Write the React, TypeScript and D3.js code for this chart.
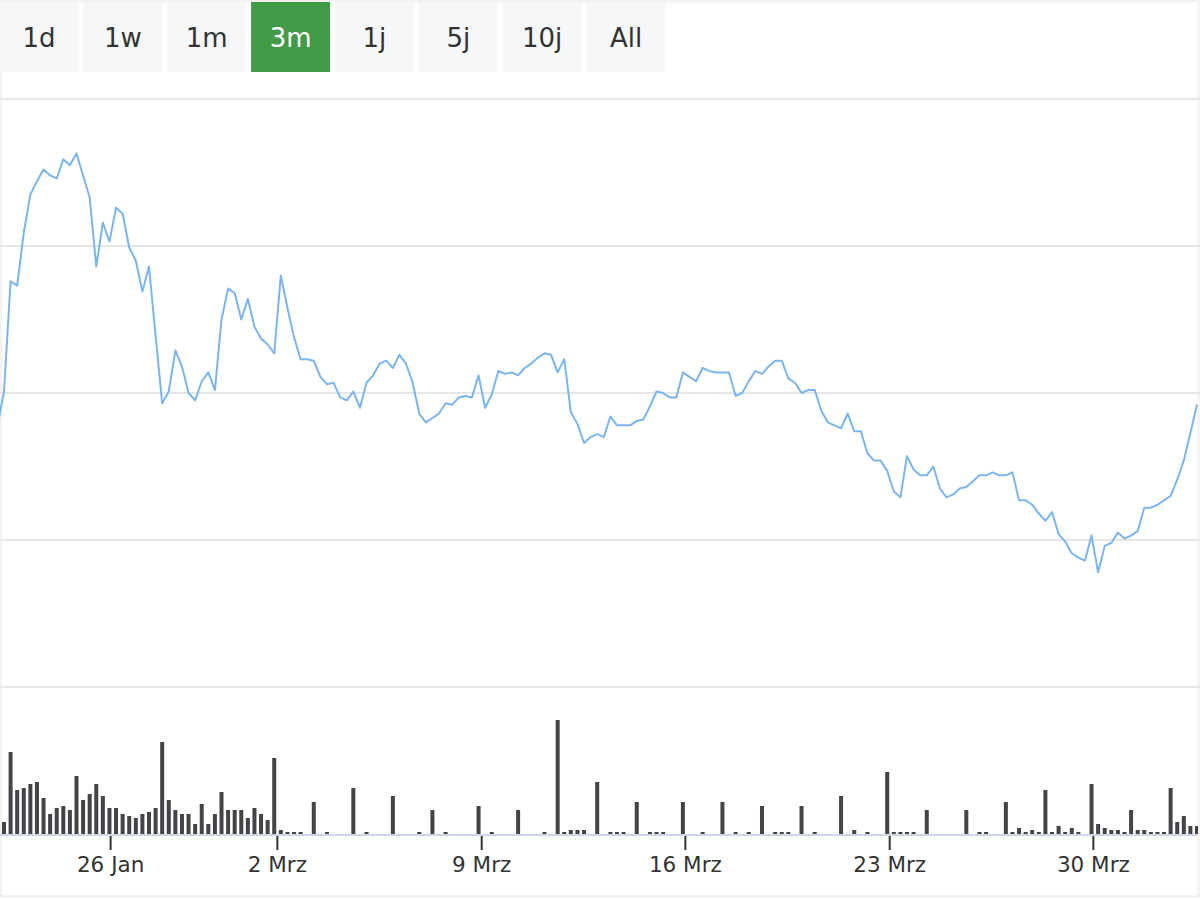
import { useEffect, useRef } from "react";
import * as d3 from "d3";

// range selector buttons
const ranges = ["1d", "1w", "1m", "3m", "1j", "5j", "10j", "All"];
const activeRange = "3m";

// closing prices, one per ordinal point (first point sits just left of the plot)
const prices = [
  11.77, 12.01, 12.76, 12.73, 13.09, 13.35, 13.44, 13.52, 13.48, 13.46,
  13.59, 13.55, 13.63, 13.48, 13.33, 12.86, 13.16, 13.03, 13.26, 13.22,
  12.99, 12.90, 12.69, 12.86, 12.39, 11.93, 12.01, 12.29, 12.18, 12.00,
  11.95, 12.08, 12.14, 12.02, 12.50, 12.71, 12.68, 12.50, 12.64, 12.45,
  12.37, 12.33, 12.27, 12.80, 12.58, 12.38, 12.23, 12.23, 12.22, 12.11,
  12.06, 12.07, 11.97, 11.95, 12.01, 11.90, 12.07, 12.12, 12.20, 12.22,
  12.17, 12.26, 12.20, 12.07, 11.86, 11.80, 11.83, 11.86, 11.93, 11.92,
  11.97, 11.98, 11.97, 12.12, 11.90, 11.99, 12.15, 12.13, 12.14, 12.12,
  12.17, 12.20, 12.24, 12.27, 12.26, 12.14, 12.23, 11.87, 11.79, 11.66,
  11.70, 11.72, 11.70, 11.84, 11.78, 11.78, 11.78, 11.81, 11.82, 11.91,
  12.01, 12.00, 11.97, 11.97, 12.14, 12.11, 12.08, 12.17, 12.15, 12.14,
  12.14, 12.14, 11.98, 12.00, 12.08, 12.15, 12.13, 12.18, 12.22, 12.22,
  12.10, 12.07, 12.00, 12.02, 12.02, 11.88, 11.80, 11.78, 11.76, 11.86,
  11.74, 11.74, 11.59, 11.54, 11.54, 11.47, 11.33, 11.29, 11.57, 11.48,
  11.44, 11.44, 11.50, 11.35, 11.29, 11.31, 11.35, 11.36, 11.40, 11.44,
  11.44, 11.46, 11.44, 11.44, 11.46, 11.27, 11.27, 11.24, 11.18, 11.13,
  11.19, 11.04, 10.99, 10.91, 10.88, 10.86, 11.03, 10.78, 10.96, 10.98,
  11.05, 11.01, 11.03, 11.06, 11.22, 11.22, 11.24, 11.27, 11.30, 11.41,
  11.54, 11.73, 11.92,
];

// traded volume per point
const volumes = [
  0, 12, 82, 44, 46, 50, 52, 36, 20, 26,
  28, 24, 58, 34, 40, 50, 38, 26, 26, 20,
  18, 16, 20, 22, 26, 92, 34, 24, 20, 20,
  10, 30, 10, 20, 42, 24, 24, 24, 16, 26,
  20, 14, 76, 4, 2, 2, 2, 0, 32, 0,
  2, 0, 0, 0, 46, 0, 2, 0, 0, 0,
  38, 0, 0, 0, 2, 0, 24, 0, 2, 0,
  0, 0, 0, 28, 0, 2, 0, 0, 0, 24,
  0, 0, 0, 2, 0, 114, 2, 4, 4, 4,
  0, 52, 0, 2, 2, 2, 0, 32, 0, 2,
  2, 2, 0, 0, 32, 0, 0, 2, 0, 0,
  32, 0, 2, 0, 2, 0, 28, 0, 2, 2,
  2, 0, 28, 0, 2, 0, 0, 0, 38, 0,
  4, 0, 2, 0, 0, 62, 2, 2, 2, 2,
  0, 24, 0, 0, 0, 0, 0, 24, 0, 2,
  2, 0, 0, 32, 2, 6, 2, 4, 2, 44,
  2, 8, 2, 6, 2, 0, 50, 10, 6, 4,
  4, 2, 24, 4, 4, 2, 2, 2, 46, 12,
  18, 8, 8,
];

// date ticks on the ordinal axis (fractional point index)
const tickIndex = [17.1, 42.4, 73.4, 104.3, 135.3, 166.2];
const tickLabels = ["26 Jan", "2 Mrz", "9 Mrz", "16 Mrz", "23 Mrz", "30 Mrz"];
const priceTicks = [10, 11, 12, 13, 14];

export default function App() {
  const svgRef = useRef<SVGSVGElement>(null);

  useEffect(() => {
    if (!svgRef.current) return;
    const svg = d3.select(svgRef.current);
    svg.selectAll("*").remove();

    const W = 1200;
    const font = "'DejaVu Sans', sans-serif";

    // Outer frame
    svg.append("rect")
      .attr("x", 1).attr("y", 1).attr("width", 1197.5).attr("height", 895.5)
      .attr("fill", "#ffffff").attr("stroke", "#f2f2f2").attr("stroke-width", 2.5);

    // Buttons
    const btnPitch = 83.86, btnW = 79;
    const btn = svg.append("g").selectAll("g").data(ranges).enter().append("g")
      .attr("transform", (_, i) => `translate(${i * btnPitch - 0.5},2)`);
    btn.append("rect")
      .attr("width", btnW).attr("height", 70)
      .attr("fill", d => d === activeRange ? "#439a46" : "#f6f7f9");
    btn.append("text")
      .attr("x", btnW / 2).attr("y", 45)
      .attr("text-anchor", "middle").attr("font-family", font).attr("font-size", 26)
      .attr("fill", d => d === activeRange ? "#ffffff" : "#333333")
      .text(d => d);

    const x = d3.scaleLinear().domain([0, prices.length - 1]).range([-2.6, 1197]);
    const y = d3.scaleLinear().domain([10, 14]).range([687, 99]);
    const vy = d3.scaleLinear().domain([0, 147]).range([834, 687]);

    // Grid
    svg.append("g").selectAll("line").data(priceTicks).enter().append("line")
      .attr("x1", 0).attr("x2", W)
      .attr("y1", d => y(d)).attr("y2", d => y(d))
      .attr("stroke", "#e6e6e6").attr("stroke-width", 2);

    svg.append("clipPath").attr("id", "plot-clip")
      .append("rect").attr("x", 0).attr("y", 72).attr("width", 1198).attr("height", 800);

    // Price line
    const lineGen = d3.line<number>().x((_, i) => x(i)).y(d => y(d));
    svg.append("path").datum(prices)
      .attr("clip-path", "url(#plot-clip)")
      .attr("d", lineGen)
      .attr("fill", "none").attr("stroke", "#7cb5ec").attr("stroke-width", 2)
      .attr("stroke-linejoin", "round");

    // Volume bars
    svg.append("g").attr("clip-path", "url(#plot-clip)")
      .selectAll("rect").data(volumes.map((v, i) => ({ v, i })).filter(d => d.v > 0))
      .enter().append("rect")
      .attr("x", d => x(d.i) - 2).attr("width", 4)
      .attr("y", d => vy(d.v)).attr("height", d => vy(0) - vy(d.v))
      .attr("fill", "#434348");

    // X axis
    const axis = svg.append("g").attr("transform", `translate(0,${vy(0)})`)
      .call(d3.axisBottom(x).tickValues(tickIndex).tickSize(16).tickSizeOuter(0)
        .tickFormat((_, i) => tickLabels[i]));
    axis.select(".domain").remove();
    axis.selectAll(".tick line").attr("stroke", "#333333").attr("stroke-width", 2);
    axis.selectAll(".tick text")
      .attr("y", 38).attr("dy", null)
      .attr("fill", "#333333").attr("font-size", 21.5).attr("font-family", font);
    svg.append("line")
      .attr("x1", 0).attr("x2", W - 3).attr("y1", vy(0) + 1).attr("y2", vy(0) + 1)
      .attr("stroke", "#ccd6eb").attr("stroke-width", 2);
  }, []);

  return (
    <svg ref={svgRef} width={1200} height={900}
      style={{ position: "absolute", left: 0, top: 0, background: "#ffffff" }} />
  );
}
